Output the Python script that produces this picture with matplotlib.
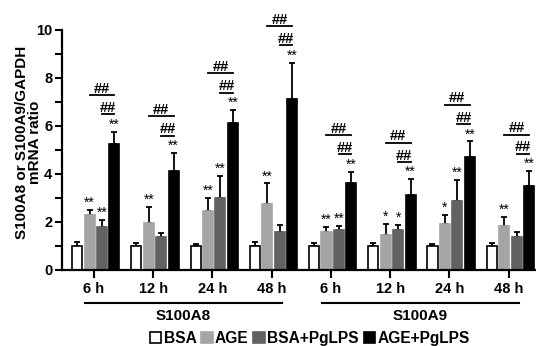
import numpy as np
import matplotlib
matplotlib.use("Agg")
import matplotlib.pyplot as plt
from matplotlib.patches import Patch
import matplotlib.transforms as mtransforms

plt.rcParams['font.family'] = ['Liberation Sans', 'DejaVu Sans']
plt.rcParams['font.weight'] = 'bold'

# data
times = ['6 h', '12 h', '24 h', '48 h', '6 h', '12 h', '24 h', '48 h']
genes = ['S100A8', 'S100A9']
groups = ['BSA', 'AGE', 'BSA+PgLPS', 'AGE+PgLPS']

bsa = [1.0, 1.0, 1.0, 1.0, 1.0, 1.0, 1.0, 1.0]
bsa_err = [0.15, 0.14, 0.1, 0.18, 0.14, 0.14, 0.07, 0.11]
age = [2.29, 1.97, 2.47, 2.74, 1.6, 1.47, 1.92, 1.85]
age_err = [0.21, 0.67, 0.52, 0.87, 0.18, 0.45, 0.36, 0.37]
bsa_pg = [1.78, 1.39, 2.99, 1.58, 1.65, 1.68, 2.87, 1.39]
bsa_pg_err = [0.3, 0.17, 0.93, 0.3, 0.18, 0.21, 0.9, 0.18]
age_pg = [5.24, 4.14, 6.11, 7.11, 3.61, 3.12, 4.72, 3.5]
age_pg_err = [0.52, 0.74, 0.56, 1.53, 0.49, 0.66, 0.64, 0.62]

# significance vs BSA
stars_age = ['**', '**', '**', '**', '**', '*', '*', '**']
stars_bsa_pg = ['**', '', '**', '', '**', '*', '**', '']
stars_age_pg = ['**'] * 8

colors = ['white', '#a5a5a5', '#626262', 'black']

fig = plt.figure(figsize=(5.36, 3.46), dpi=100)
ax = fig.add_axes([0.1157, 0.2197, 0.884, 0.6936])

x = np.arange(len(times))
step = 0.21
w = 0.17
vals = [bsa, age, bsa_pg, age_pg]
errs = [bsa_err, age_err, bsa_pg_err, age_pg_err]
offs = [-1.5, -0.5, 0.5, 1.5]
for v, e, c, o, g in zip(vals, errs, colors, offs, groups):
    ax.bar(x + o * step + 0.03, v, w, color=c, edgecolor='black' if c == 'white' else c,
           linewidth=1.2, label=g, zorder=2)
    ax.errorbar(x + o * step + 0.03, v, yerr=[np.zeros(len(v)), e], fmt='none',
                ecolor='black', elinewidth=1.3, capsize=2, capthick=1.3, zorder=1)

# stars
for lbls, v, e, o in [(stars_age, age, age_err, -0.5), (stars_bsa_pg, bsa_pg, bsa_pg_err, 0.5),
                      (stars_age_pg, age_pg, age_pg_err, 1.5)]:
    for i in range(len(x)):
        if lbls[i]:
            ax.text(x[i] + o * step + 0.03, v[i] + e[i] + 0.0, lbls[i], ha='center', va='bottom',
                    fontsize=10, fontweight='normal', clip_on=False)

# ## brackets
for i in range(len(x)):
    top = age_pg[i] + age_pg_err[i]
    xa = x[i] - 0.5 * step + 0.03
    xb = x[i] + 0.5 * step + 0.03
    xc = x[i] + 1.5 * step + 0.03
    y1 = top + 0.72
    y2 = top + 1.52
    ax.plot([xb, xc], [y1, y1], color='black', lw=1.3, clip_on=False)
    ax.plot([xa, xc], [y2, y2], color='black', lw=1.3, clip_on=False)
    ax.text((xb + xc) / 2, y1 + 0.1, '##', ha='center', va='baseline', fontsize=10.5, clip_on=False)
    ax.text((xa + xc) / 2, y2 + 0.1, '##', ha='center', va='baseline', fontsize=10.5, clip_on=False)

ax.set_xlim(-0.54, 7.46)
ax.set_ylim(0, 10)
ax.set_yticks([0, 2, 4, 6, 8, 10])
ax.set_yticks([1, 3, 5, 7, 9], minor=True)
ax.set_xticks(x)
ax.set_xticklabels(times, fontsize=10.5, fontweight='bold')
ax.tick_params(axis='y', labelsize=10.5, width=1.5, length=5, pad=2)
ax.tick_params(axis='y', which='minor', width=1.5, length=5)
ax.tick_params(axis='x', width=1.5, length=6, pad=3)
for t in ax.get_yticklabels():
    t.set_fontweight('bold')
for s in ['top', 'right']:
    ax.spines[s].set_visible(False)
for s in ['left', 'bottom']:
    ax.spines[s].set_linewidth(1.6)

ax.set_ylabel('S100A8 or S100A9/GAPDH\nmRNA ratio', fontsize=11, fontweight='bold',
              linespacing=0.9)
ax.yaxis.set_label_coords(-0.043, 0.53)

# gene group lines
trans = mtransforms.blended_transform_factory(ax.transData, ax.transAxes)
for k, gname in enumerate(genes):
    x0 = x[4 * k] - 0.15
    x1 = x[4 * k + 3] + 0.17
    ax.plot([x0, x1], [-0.137, -0.137], color='black', lw=1.5, transform=trans, clip_on=False)
    ax.text((x[4 * k] + x[4 * k + 3]) / 2, -0.19, gname, transform=trans, ha='center',
            va='center', fontsize=11, fontweight='bold')

handles = [Patch(facecolor=c, edgecolor='black' if c == 'white' else c, linewidth=1.2) for c in colors]
fig.legend(handles, groups, loc='center', bbox_to_anchor=(0.578, 0.022), ncol=4, frameon=False,
           handlelength=0.75, handleheight=0.75, handletextpad=0.15,
           columnspacing=0.3, prop={'weight': 'bold', 'size': 11.2})

fig.savefig('out.png', dpi=100)
